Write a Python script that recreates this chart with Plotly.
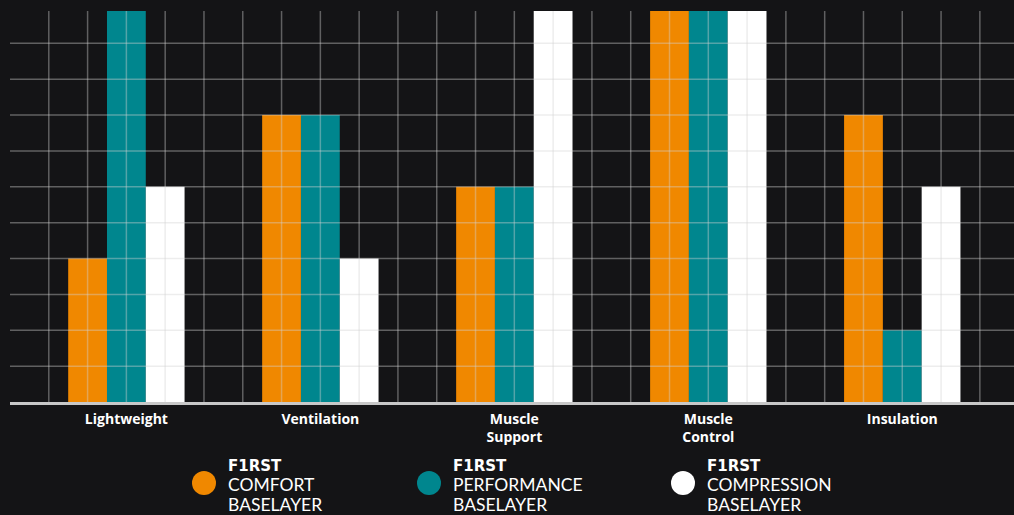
import plotly.graph_objects as go

# ---- data ----
categories = ["Lightweight", "Ventilation", "Muscle<br>Support", "Muscle<br>Control", "Insulation"]
comfort = [4, 8, 6, 11, 8]
performance = [11, 8, 6, 11, 2]
compression = [6, 4, 11, 11, 6]
brand = "F1RST"
series_names = ["COMFORT", "PERFORMANCE", "COMPRESSION"]
series_suffix = "BASELAYER"
series_colors = ["#f08800", "#00868e", "#ffffff"]

W, H = 1014, 515
ML, MR, MT, MB = 10, 0, 11, 113
XMAX = 25.88
YMAX = 10.9

group_step = 5
centers = [3 + group_step * i for i in range(len(categories))]

fig = go.Figure()
for k, (vals, col) in enumerate(zip([comfort, performance, compression], series_colors)):
    fig.add_trace(go.Bar(
        x=[c + (k - 1) for c in centers], y=vals, width=1,
        marker=dict(color=col, line=dict(width=0)),
        name=series_names[k], showlegend=False, hoverinfo="skip",
    ))

grid_col = "rgba(210,210,210,0.40)"
shapes = []
for xv in range(1, int(XMAX) + 1):
    shapes.append(dict(type="line", xref="x", yref="y", x0=xv, x1=xv, y0=0, y1=YMAX,
                       line=dict(color=grid_col, width=1.5), layer="above"))
for yv in range(1, int(YMAX) + 1):
    shapes.append(dict(type="line", xref="x", yref="y", x0=0, x1=XMAX, y0=yv, y1=yv,
                       line=dict(color=grid_col, width=1.5), layer="above"))

# manual legend (circles + stacked text)
pw = W - ML - MR
ph = H - MT - MB
def px(xp):
    return (xp - ML) / pw
def py(yp):
    return (H - MB - yp) / ph

legend_x = [204, 429, 683]
annotations = []
for cx, col, nm in zip(legend_x, series_colors, series_names):
    shapes.append(dict(type="circle", xref="paper", yref="paper",
                       xsizemode="pixel", ysizemode="pixel",
                       xanchor=px(cx), yanchor=py(483),
                       x0=-12, x1=12, y0=-12, y1=12,
                       fillcolor=col, line=dict(width=0), layer="above"))
    txt = ("<span style='font-family:DejaVu Sans;font-size:15px;font-weight:bold'>%s</span><br>"
           "<span style='font-size:17.5px'>%s</span><br>"
           "<span style='font-size:17.5px'>%s</span>") % (brand, nm, series_suffix)
    annotations.append(dict(xref="paper", yref="paper", x=px(cx + 22), y=py(486),
                            xanchor="left", yanchor="middle", align="left",
                            text=txt, showarrow=False,
                            font=dict(family="Lato", size=15.3, color="#ffffff")))

fig.update_layout(
    width=W, height=H,
    margin=dict(l=ML, r=MR, t=MT, b=MB),
    paper_bgcolor="#141416", plot_bgcolor="#141416",
    barmode="overlay",
    shapes=shapes, annotations=annotations,
    showlegend=False,
    xaxis=dict(range=[0, XMAX], tickmode="array", tickvals=centers, ticktext=categories,
               showgrid=False, zeroline=False, showline=True, linecolor="#c8c8c8", linewidth=2.5,
               ticks="", tickfont=dict(family="Open Sans", size=14, color="#ffffff", weight="bold"),
               ticklabelstandoff=2,
               layer="above traces", fixedrange=True),
    yaxis=dict(range=[0, YMAX], showgrid=False, zeroline=False, showticklabels=False,
               ticks="", showline=False, fixedrange=True),
)

fig.write_html("out.html", config={"displayModeBar": False},
               post_script="document.body.style.margin='0';document.body.style.overflow='hidden';")
